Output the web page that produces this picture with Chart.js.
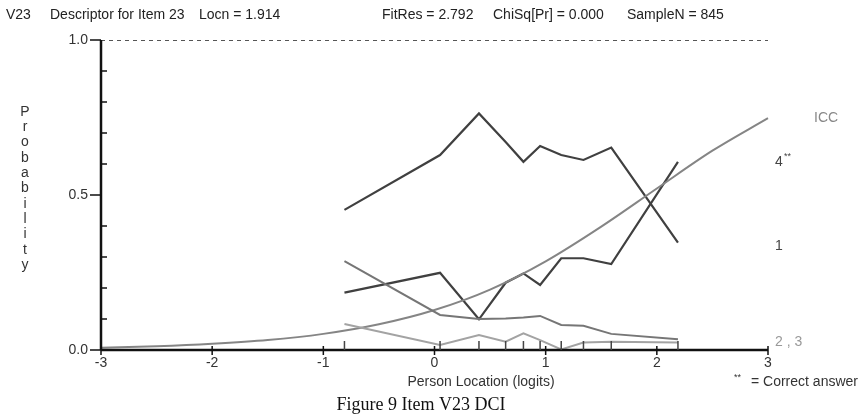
<!DOCTYPE html>
<html>
<head>
<meta charset="utf-8">
<script src="https://cdn.jsdelivr.net/npm/chart.js@4/dist/chart.umd.min.js"></script>
<style>
  html, body { margin: 0; padding: 0; background: #fff; }
  #wrap { width: 860px; height: 416px; }
</style>
</head>
<body>
<div id="wrap"><canvas id="myChart" width="860" height="416"></canvas></div>
<script>
"use strict";

// class interval mean locations (logits)
const classLocations = [-0.81, 0.05, 0.40, 0.64, 0.80, 0.95, 1.14, 1.34, 1.59, 2.19];

// observed proportions per response category
const cat4 = [0.452, 0.629, 0.763, 0.671, 0.607, 0.658, 0.629, 0.613, 0.653, 0.346];
const cat1 = [0.185, 0.249, 0.099, 0.217, 0.247, 0.210, 0.296, 0.296, 0.277, 0.607];
const cat2 = [0.287, 0.113, 0.100, 0.102, 0.105, 0.110, 0.081, 0.078, 0.052, 0.035];
const cat3 = [0.084, 0.016, 0.048, 0.027, 0.054, 0.032, 0.002, 0.024, 0.027, 0.024];

// item characteristic curve
const iccX = [-3, -2.5, -2, -1.5, -1, -0.5, 0, 0.5, 1, 1.5, 2, 2.5, 3];
const iccY = [0.007, 0.012, 0.020, 0.032, 0.052, 0.083, 0.129, 0.195, 0.286, 0.398, 0.521, 0.643, 0.748];

const xTicks = [-3, -2, -1, 0, 1, 2, 3];
const yMajor = [0, 0.5, 1.0];
const yMinor = [0.1, 0.2, 0.3, 0.4, 0.6, 0.7, 0.8, 0.9];

const headerLeft = [["V23", 6], ["Descriptor for Item 23", 50], ["Locn = 1.914", 199]];
const headerRight = [["FitRes = 2.792", 382], ["ChiSq[Pr] = 0.000", 493], ["SampleN = 845", 627]];

const SANS = '"Liberation Sans", Arial, sans-serif';

function pairs(xs, ys) {
  return xs.map((x, i) => ({ x: x, y: ys[i] }));
}

const axesPlugin = {
  id: "raschAxes",
  afterDraw(chart) {
    const ctx = chart.ctx;
    const xs = chart.scales.x;
    const ys = chart.scales.y;
    const left = xs.getPixelForValue(-3);
    const right = xs.getPixelForValue(3);
    const top = ys.getPixelForValue(1);
    const bottom = ys.getPixelForValue(0);

    ctx.save();

    // dashed line at 1.0
    ctx.strokeStyle = "#555";
    ctx.lineWidth = 1;
    ctx.setLineDash([4, 4]);
    ctx.beginPath();
    ctx.moveTo(left, top + 0.5);
    ctx.lineTo(right, top + 0.5);
    ctx.stroke();
    ctx.setLineDash([]);

    // axis lines
    ctx.strokeStyle = "#111";
    ctx.lineWidth = 2.5;
    ctx.beginPath();
    ctx.moveTo(left, top);
    ctx.lineTo(left, bottom);
    ctx.moveTo(left, bottom);
    ctx.lineTo(right, bottom);
    ctx.stroke();

    // y ticks
    ctx.lineWidth = 1.5;
    ctx.beginPath();
    yMajor.forEach((v) => {
      const py = ys.getPixelForValue(v);
      ctx.moveTo(left - 11, py);
      ctx.lineTo(left, py);
    });
    yMinor.forEach((v) => {
      const py = ys.getPixelForValue(v);
      ctx.moveTo(left, py);
      ctx.lineTo(left + 6, py);
    });
    // x ticks, integers below
    xTicks.forEach((v) => {
      const px = xs.getPixelForValue(v);
      ctx.moveTo(px, bottom - 4);
      ctx.lineTo(px, bottom + 5);
    });
    ctx.stroke();
    // class interval ticks above
    ctx.strokeStyle = "#444";
    ctx.lineWidth = 1.5;
    ctx.beginPath();
    classLocations.forEach((v) => {
      const px = xs.getPixelForValue(v);
      ctx.moveTo(px, bottom);
      ctx.lineTo(px, bottom - 9);
    });
    ctx.stroke();

    // tick labels
    ctx.fillStyle = "#333";
    ctx.font = "14px " + SANS;
    ctx.textAlign = "right";
    ctx.textBaseline = "middle";
    yMajor.forEach((v) => {
      ctx.fillText(v.toFixed(1), left - 13, ys.getPixelForValue(v));
    });
    ctx.textAlign = "center";
    ctx.textBaseline = "top";
    xTicks.forEach((v) => {
      ctx.fillText(String(v), xs.getPixelForValue(v), bottom + 6);
    });

    // axis titles
    ctx.fillText("Person Location (logits)", 481, 375);
    const word = "Probability";
    ctx.textBaseline = "middle";
    for (let i = 0; i < word.length; i++) {
      ctx.fillText(word[i], 25, 112 + i * 15.3);
    }

    // header
    ctx.fillStyle = "#222";
    ctx.textAlign = "left";
    ctx.textBaseline = "middle";
    headerLeft.concat(headerRight).forEach(([t, x]) => ctx.fillText(t, x, 15));

    // category labels on the right
    ctx.fillStyle = "#888";
    ctx.fillText("ICC", 814, 118);
    ctx.fillStyle = "#444";
    ctx.fillText("4", 775, 162);
    ctx.fillText("1", 775, 246);
    ctx.font = "9px " + SANS;
    ctx.fillText("**", 784, 157);
    ctx.font = "14px " + SANS;
    ctx.fillStyle = "#999";
    ctx.fillText("2 , 3", 775, 342);
    ctx.fillStyle = "#333";
    ctx.fillText("= Correct answer", 751, 382);
    ctx.font = "9px " + SANS;
    ctx.fillText("**", 734, 378);

    // caption
    ctx.fillStyle = "#111";
    ctx.font = "18px \"Liberation Serif\", \"Times New Roman\", serif";
    ctx.textAlign = "center";
    ctx.fillText("Figure 9 Item V23 DCI", 421, 405);

    ctx.restore();
  }
};

function series(label, ys, color, width) {
  return {
    label: label,
    data: pairs(classLocations, ys),
    borderColor: color,
    borderWidth: width,
    pointRadius: 0,
    tension: 0,
    fill: false,
    clip: false
  };
}

const config = {
  type: "line",
  data: {
    datasets: [
      series("3", cat3, "#a3a3a3", 2),
      series("2", cat2, "#767676", 2),
      {
        label: "ICC",
        data: pairs(iccX, iccY),
        borderColor: "#858585",
        borderWidth: 2,
        pointRadius: 0,
        cubicInterpolationMode: "monotone",
        fill: false,
        clip: false
      },
      series("1", cat1, "#404040", 2.2),
      series("4", cat4, "#404040", 2.2)
    ]
  },
  options: {
    responsive: false,
    animation: false,
    layout: { padding: { left: 101, right: 92, top: 40, bottom: 66 } },
    scales: {
      x: { type: "linear", min: -3, max: 3, display: false },
      y: { type: "linear", min: 0, max: 1, display: false }
    },
    plugins: {
      legend: { display: false },
      tooltip: { enabled: false }
    }
  },
  plugins: [axesPlugin]
};

new Chart(document.getElementById("myChart").getContext("2d"), config);
</script>
</body>
</html>
